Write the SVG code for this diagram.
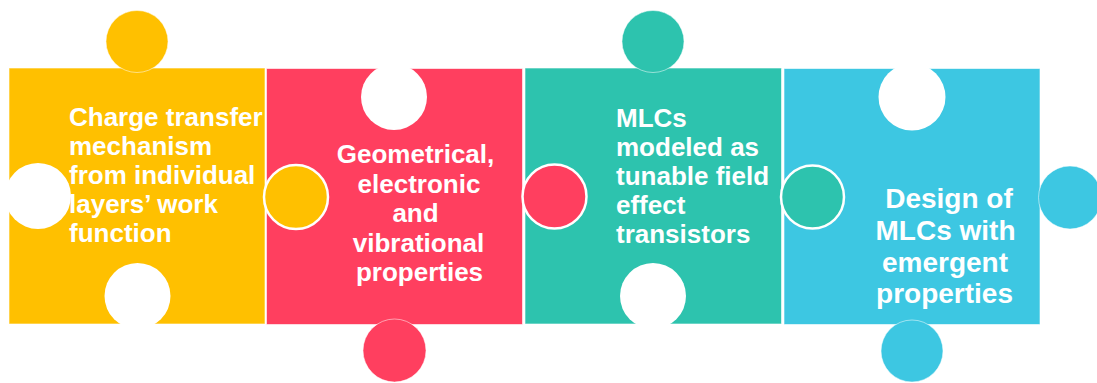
<svg xmlns="http://www.w3.org/2000/svg" width="1097" height="383" viewBox="0 0 1097 383">
<style>
.y{fill:#FFC000}.r{fill:#FF3F5F}.t{fill:#2DC3AE}.b{fill:#3DC7E2}
.body{stroke:#fff;stroke-opacity:0.6;stroke-width:1}
.hole{fill:#fff}
.knob{stroke:#fff;stroke-opacity:0.5;stroke-width:1}
.cross{stroke:#fff;stroke-width:2.5}
text{font-family:"Liberation Sans",Arial,sans-serif;font-weight:bold;fill:#fff;font-size:26px}
text.big{font-size:28px}
.c{text-anchor:middle}
</style>
<rect width="1097" height="383" fill="#fff"/>
<g id="piece1">
<rect class="y body" x="9" y="68" width="256" height="256"/>
<circle class="hole" cx="38" cy="196" r="33"/>
<circle class="hole" cx="137.5" cy="296" r="33"/>
<circle class="y knob" cx="137" cy="41.5" r="31"/>
</g>
<g id="piece2">
<rect class="r body" x="266.5" y="68.5" width="256" height="256"/>
<circle class="hole" cx="394" cy="97" r="33"/>
<circle class="r knob" cx="394.5" cy="350.5" r="31.5"/>
</g>
<g id="piece3">
<rect class="t body" x="525" y="68" width="256.5" height="256"/>
<circle class="hole" cx="653" cy="296" r="33"/>
<circle class="t knob" cx="653" cy="41.5" r="31"/>
</g>
<g id="piece4">
<rect class="b body" x="784" y="68.5" width="256" height="256"/>
<circle class="hole" cx="912" cy="97" r="33.5"/>
<circle class="b knob" cx="912" cy="351" r="31"/>
<circle class="b knob" cx="1070" cy="197.5" r="31.5"/>
</g>
<g id="connectors">
<circle class="y cross" cx="296" cy="197" r="32"/>
<circle class="r cross" cx="554.5" cy="196.5" r="32"/>
<circle class="t cross" cx="812.5" cy="197" r="31.5"/>
</g>
<g id="text1">
<text x="69" y="125.5">Charge transfer</text>
<text x="69" y="154.7">mechanism</text>
<text x="69" y="183.9">from individual</text>
<text x="69" y="213.1">layers’ work</text>
<text x="69" y="242.3">function</text>
</g>
<g id="text2">
<text class="c" x="415.5" y="163">Geometrical,</text>
<text class="c" x="419" y="192.5">electronic</text>
<text class="c" x="415.5" y="222">and</text>
<text class="c" x="418.5" y="251.5">vibrational</text>
<text class="c" x="419.5" y="281">properties</text>
</g>
<g id="text3">
<text x="616" y="127">MLCs</text>
<text x="616" y="156">modeled as</text>
<text x="616" y="185">tunable field</text>
<text x="616" y="214">effect</text>
<text x="616" y="243">transistors</text>
</g>
<g id="text4">
<text class="c big" x="949" y="208">Design of</text>
<text class="c big" x="945.5" y="240">MLCs with</text>
<text class="c big" x="945" y="272">emergent</text>
<text class="c big" x="944.5" y="303">properties</text>
</g>
</svg>
